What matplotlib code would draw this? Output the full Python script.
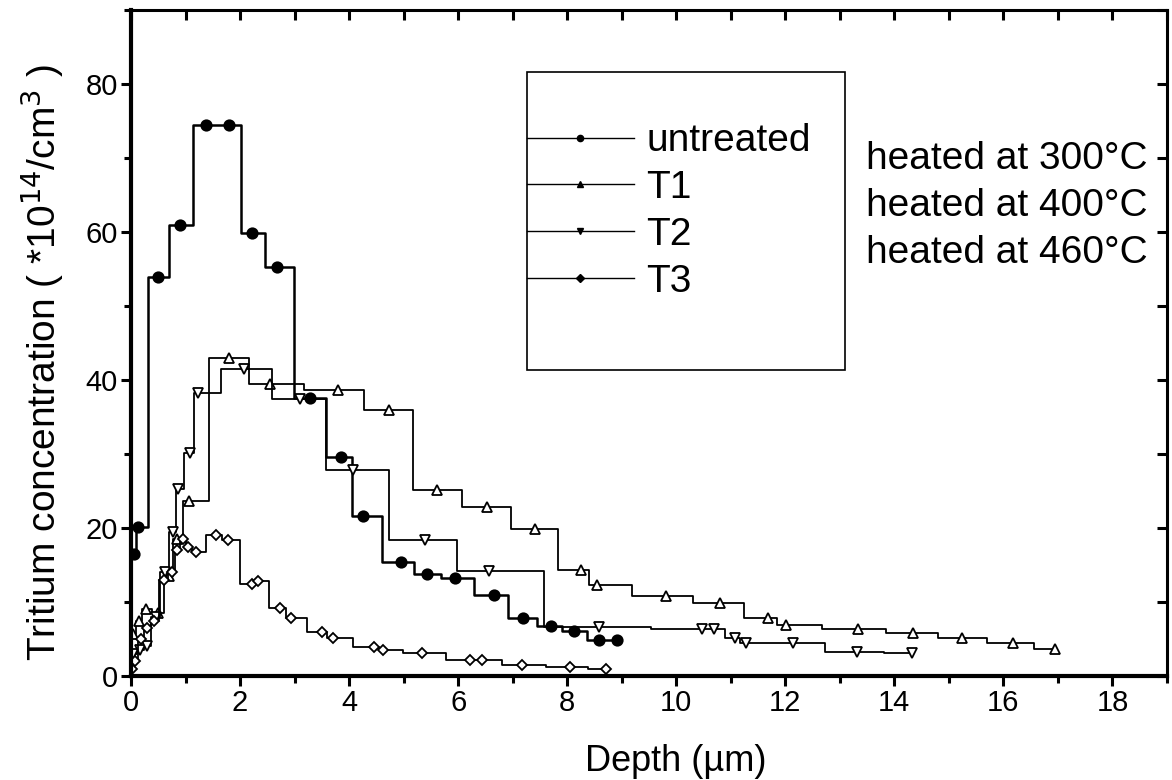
import numpy as np
import matplotlib
matplotlib.use("Agg")
from matplotlib import pyplot as plt
from matplotlib.patches import Rectangle
from matplotlib.ticker import MultipleLocator

plt.rcParams['font.family'] = ['Liberation Sans', 'DejaVu Sans']

# Data ----------------------------------------------------------------------------
untreated_d = [0.05, 0.13, 0.49, 0.90, 1.38, 1.80, 2.22, 2.68, 3.29, 3.85, 4.26, 4.95,
               5.43, 5.94, 6.65, 7.19, 7.70, 8.12, 8.59, 8.91]
untreated_c = [16.5, 20.2, 53.9, 61.0, 74.4, 74.4, 59.8, 55.3, 37.6, 29.6, 21.6, 15.4,
               13.8, 13.2, 10.9, 7.9, 6.8, 6.1, 4.8, 4.8]

t1_d = [0.04, 0.15, 0.27, 0.50, 0.70, 0.85, 1.06, 1.79, 2.55, 3.80, 4.74, 5.61, 6.52,
        7.41, 8.26, 8.54, 9.82, 10.81, 11.69, 12.02, 13.33, 14.35, 15.24, 16.17, 16.94]
t1_c = [5.7, 7.5, 9.1, 8.5, 13.5, 18.5, 23.7, 43.0, 39.5, 38.6, 35.9, 25.2, 22.8,
        19.9, 14.3, 12.3, 10.8, 9.9, 7.8, 6.9, 6.3, 5.75, 5.1, 4.4, 3.6]

t2_d = [0.04, 0.17, 0.29, 0.45, 0.62, 0.77, 0.87, 1.08, 1.22, 2.07, 3.10, 4.07, 5.39,
        6.57, 8.59, 10.47, 10.69, 11.08, 11.27, 12.15, 13.31, 14.32]
t2_c = [3.0, 3.5, 4.0, 8.0, 14.0, 19.5, 25.3, 30.2, 38.3, 41.5, 37.4, 27.9, 18.4,
        14.2, 6.6, 6.4, 6.4, 5.1, 4.4, 4.4, 3.3, 3.1]

t3_d = [0.02, 0.08, 0.18, 0.30, 0.42, 0.60, 0.75, 0.85, 0.95, 1.05, 1.20, 1.55, 1.78,
        2.21, 2.32, 2.73, 2.94, 3.50, 3.70, 4.45, 4.63, 5.33, 6.22, 6.43, 7.18, 8.05, 8.72]
t3_c = [1.0, 2.0, 5.0, 6.5, 7.5, 13.0, 14.0, 17.0, 18.5, 17.5, 16.8, 19.0, 18.4,
        12.5, 12.9, 9.2, 7.8, 6.0, 5.2, 3.95, 3.5, 3.15, 2.1, 2.1, 1.5, 1.2, 0.9]

labels = ["untreated", "T1", "T2", "T3"]
notes = ["heated at 300°C", "heated at 400°C", "heated at 460°C"]
# ---------------------------------------------------------------------------------

fig = plt.figure(figsize=(11.72, 7.80), dpi=100)
ax = fig.add_axes([131/1172, 1-676/780, 1036/1172, 666/780])

series = [
    (untreated_d, untreated_c, dict(marker='o', mfc='black', ms=7.5, lw=1.8)),
    (t1_d, t1_c, dict(marker='^', mfc='white', ms=7, lw=1.3)),
    (t2_d, t2_c, dict(marker='v', mfc='white', ms=7, lw=1.3)),
    (t3_d, t3_c, dict(marker='D', mfc='white', ms=5.5, lw=1.3)),
]
handles = []
for (d, c, st), lab in zip(series, labels):
    ax.plot(d, c, drawstyle='steps-mid', color='black', lw=st['lw'], marker='None')
    ax.plot(d, c, ls='none', marker=st['marker'], mfc=st['mfc'], mec='black',
            mew=1.3, ms=st['ms'])
    h, = ax.plot([], [], color='black', lw=1.0, marker=st['marker'], mfc='black',
                 mec='black', ms=4.5)
    handles.append(h)

ax.set_xlim(0, 19)
ax.set_ylim(0, 90)
ax.set_xticks([0, 2, 4, 6, 8, 10, 12, 14, 16, 18])
ax.set_yticks([0, 20, 40, 60, 80])
ax.xaxis.set_minor_locator(MultipleLocator(1))
ax.yaxis.set_minor_locator(MultipleLocator(10))

for s in ax.spines.values():
    s.set_linewidth(2.2)
ax.spines['left'].set_linewidth(3.0)
ax.spines['bottom'].set_linewidth(3.0)

ax.tick_params(which='both', direction='out', bottom=True, left=True, top=False, right=False,
               width=2.2, labelsize=21, pad=2)
ax.tick_params(which='major', length=7.5)
ax.tick_params(which='minor', length=5)

# inward ticks on top and right
axt = ax.secondary_xaxis('top')
axt.xaxis.set_major_locator(MultipleLocator(1))
axt.tick_params(direction='in', length=7, width=2.2, labeltop=False)
axt.spines['top'].set_visible(False)
axr = ax.secondary_yaxis('right')
axr.yaxis.set_major_locator(MultipleLocator(10))
axr.tick_params(direction='in', length=7, width=2.2, labelright=False)
axr.spines['right'].set_visible(False)

ax.set_xlabel("Depth (µm)", fontsize=26)
ax.set_ylabel("Tritium concentration ( *10$^{14}$/cm$^3$ )", fontsize=28)
ax.xaxis.set_label_coords(0.526, -0.102)
ax.yaxis.set_label_coords(-0.063, 0.47)

leg = ax.legend(handles, labels, loc='upper left', bbox_to_anchor=(0.382, 0.83),
                frameon=False, fontsize=28, handlelength=2.75, handletextpad=0.33,
                labelspacing=0.28, borderaxespad=0, borderpad=0)
ax.add_patch(Rectangle((0.382, 0.459), 0.307, 0.448, transform=ax.transAxes,
                       fill=False, ec='black', lw=1.2))

for i, t in enumerate(notes):
    ax.text(0.709, 0.776 - i*0.0706, t, transform=ax.transAxes, fontsize=28,
            ha='left', va='center')

fig.savefig("out.png", dpi=100)
